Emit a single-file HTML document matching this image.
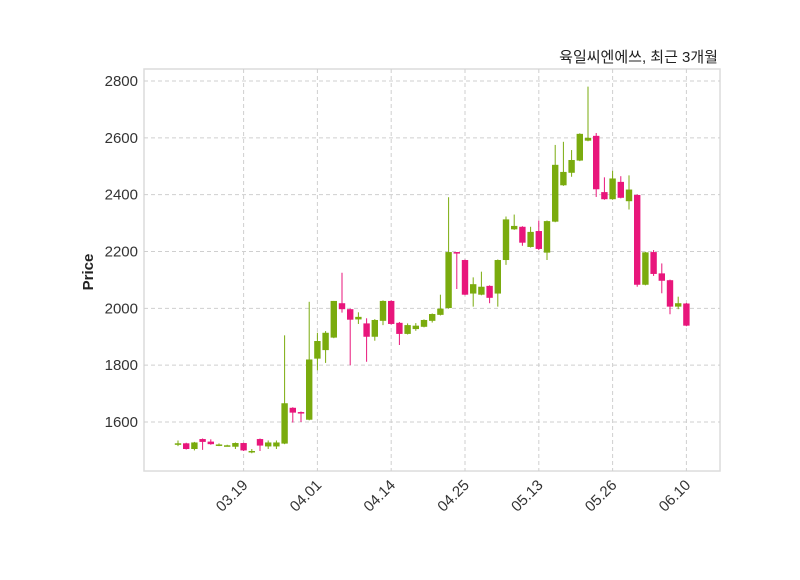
<!DOCTYPE html>
<html><head><meta charset="utf-8"><style>
body{margin:0;background:#fff;width:800px;height:575px;overflow:hidden}
svg text{font-family:"Liberation Sans","Noto Sans CJK KR",sans-serif}
</style></head><body>
<svg id="chart" width="800" height="575" xmlns="http://www.w3.org/2000/svg">
<rect x="144" y="69" width="576" height="402" fill="#fff" stroke="#dcdcdc" stroke-width="1.5"/>
<g id="grid"></g><g id="candles"></g><g id="axes"></g>
<text x="718" y="62" text-anchor="end" font-size="15" fill="#222">육일씨엔에쓰, 최근 3개월</text>
<text transform="translate(93,272) rotate(-90)" text-anchor="middle" font-size="15" font-weight="bold" fill="#222">Price</text>
</svg>
<script>
const opens=[1520,1525,1505,1540,1531,1518,1518,1513,1526,1498,1540,1514,1514,1524,1650,1635,1608,1823,1853,1897,2018,1997,1961,1947,1900,1956,2026,1949,1910,1927,1935,1956,1977,2001,2198,2170,2052,2048,2079,2052,2170,2278,2287,2216,2272,2196,2305,2433,2477,2520,2590,2607,2409,2384,2445,2377,2399,2083,2198,2123,2099,2006,2017];
const closes=[1525,1505,1528,1530,1522,1521,1518,1526,1500,1498,1517,1528,1528,1666,1633,1630,1820,1885,1914,2026,1997,1960,1970,1900,1959,2026,1945,1910,1941,1939,1959,1980,1999,2198,2193,2048,2085,2076,2037,2170,2313,2290,2231,2269,2209,2307,2505,2480,2522,2614,2600,2419,2384,2457,2389,2418,2083,2197,2121,2097,2006,2018,1939];
const highs=[1535,1527,1530,1542,1539,1525,1520,1528,1527,1505,1542,1535,1535,1905,1652,1637,2023,1914,1920,2026,2125,1999,1986,1965,1962,2028,2028,1952,1947,1948,1961,1982,2048,2391,2198,2172,2109,2129,2081,2172,2323,2330,2289,2287,2309,2309,2575,2586,2557,2616,2780,2617,2461,2484,2465,2468,2401,2199,2205,2158,2101,2041,2019];
const lows=[1515,1503,1500,1502,1520,1515,1516,1505,1498,1490,1498,1505,1505,1522,1598,1600,1606,1782,1808,1895,1985,1800,1945,1812,1886,1941,1943,1871,1908,1921,1933,1950,1975,1999,2068,2046,2006,2046,2018,2006,2153,2276,2220,2214,2205,2170,2303,2431,2463,2518,2588,2392,2382,2382,2387,2348,2076,2081,2114,2053,1979,1997,1937];
const tickIdx=[8,17,26,35,44,53,62];
const tickLabels=["03.19","04.01","04.14","04.25","05.13","05.26","06.10"];
const yTicks=[1600,1800,2000,2200,2400,2600,2800];
const NS="http://www.w3.org/2000/svg";
const xS=i=>178+8.2*i;
const yS=p=>422-(p-1600)*0.28417;
function mk(t,a,parent){const e=document.createElementNS(NS,t);for(const k in a)e.setAttribute(k,a[k]);document.getElementById(parent).appendChild(e);return e;}
yTicks.forEach((v,k)=>{
  const l=mk('line',{x1:144,x2:720,y1:yS(v),y2:yS(v),stroke:'#cfcfcf','stroke-dasharray':'4,3'},'grid');
  
  
  const t=mk('text',{x:138,y:yS(v)+5,'text-anchor':'end','font-size':15,fill:'#333'},'axes');
  t.textContent=v;
  
  
});
tickIdx.forEach((i,k)=>{
  const x=xS(i);
  const l=mk('line',{x1:x,x2:x,y1:69,y2:471,stroke:'#cfcfcf','stroke-dasharray':'4,3'},'grid');
  
  
  const t=mk('text',{transform:`translate(${x+5},${486}) rotate(-45)`,'text-anchor':'end','font-size':15,fill:'#333'},'axes');
  t.textContent=tickLabels[k];
  
  
});
opens.forEach((o,i)=>{
  const c=closes[i],up=c>=o,col=up?'#7aab0e':'#e8167b',x=xS(i);
  const w=mk('line',{x1:x,x2:x,y1:yS(highs[i]),y2:yS(lows[i]),stroke:col,'stroke-width':1},'candles');
  
  
  const top=yS(Math.max(o,c)),h=Math.max(1.5,Math.abs(yS(o)-yS(c)));
  const r=mk('rect',{x:x-3.2,y:top,width:6.4,height:h,fill:col},'candles');
  
  
});
</script>
</body></html>
